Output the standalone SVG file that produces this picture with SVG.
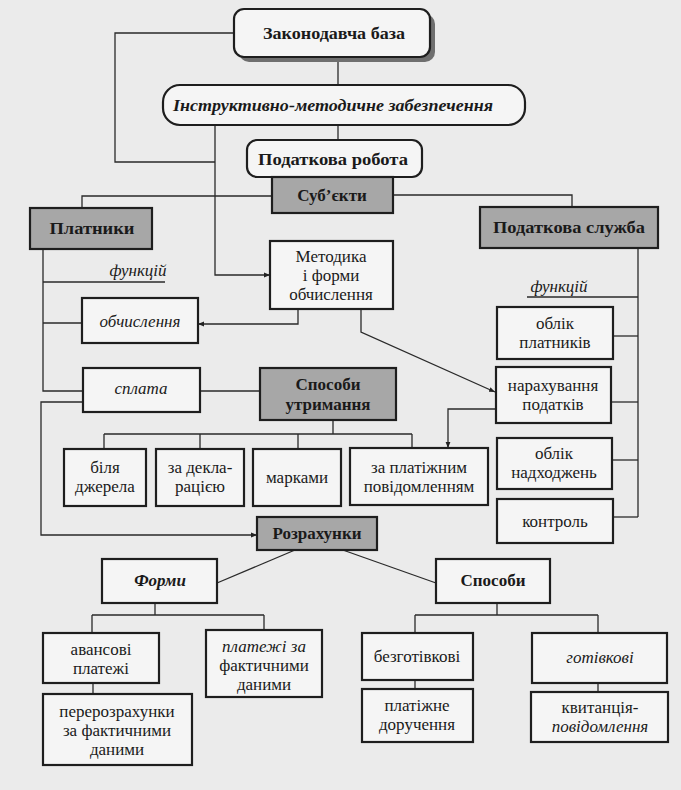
<svg xmlns="http://www.w3.org/2000/svg" width="681" height="790" viewBox="0 0 681 790" font-family="'Liberation Serif', 'DejaVu Serif', serif">
<defs>
<marker id="arr" viewBox="0 0 10 10" refX="10" refY="5" markerWidth="6" markerHeight="6" orient="auto" markerUnits="userSpaceOnUse">
<path d="M0,1 L10,5 L0,9 z" fill="#222"/>
</marker>
</defs>
<style>
.bg{fill:#ebebeb}
.box{fill:#f5f5f5;stroke:#1e1e1e;stroke-width:2.2}
.gbox{fill:#a7a7a7;stroke:#1e1e1e;stroke-width:2.2}
.shadow{fill:#6f6f6f}
.ln{fill:none;stroke:#2a2a2a;stroke-width:1.3}
.t{font-family:'Liberation Serif','DejaVu Serif',serif;font-size:17px;fill:#1a1a1a;text-anchor:middle}
.b{font-weight:bold}
.i{font-style:italic}
</style>
<rect class="bg" x="0" y="0" width="681" height="790"/>

<g id="connectors">
<path class="ln" d="M338,62 V85"/>
<path class="ln" d="M338,125 V140"/>
<path class="ln" d="M235,33 H115 V162 H215"/>
<path class="ln" d="M215,125 V275 H270" marker-end="url(#arr)"/>
<path class="ln" d="M272,196 H82 V208"/>
<path class="ln" d="M393,195 H572 V207"/>
<path class="ln" d="M43,249 V391 H83"/>
<path class="ln" d="M43,282 H165"/>
<path class="ln" d="M43,323 H82"/>
<path class="ln" d="M83,402 H41 V535 H257" marker-end="url(#arr)"/>
<path class="ln" d="M200,391 H260"/>
<path class="ln" d="M298,309 V324 H198" marker-end="url(#arr)"/>
<path class="ln" d="M361,309 V332 L495,392" marker-end="url(#arr)"/>
<path class="ln" d="M638,248 V517"/>
<path class="ln" d="M527,297 H638"/>
<path class="ln" d="M613,336 H638"/>
<path class="ln" d="M611,402 H638"/>
<path class="ln" d="M612,460 H638"/>
<path class="ln" d="M613,517 H638"/>
<path class="ln" d="M496,409 H448 V448" marker-end="url(#arr)"/>
<path class="ln" d="M333,420 V434 M104,434 H412 M104,434 V449 M200,434 V449 M298,434 V449 M412,434 V448"/>
<path class="ln" d="M295,550 L217,583"/>
<path class="ln" d="M340,549 L436,583"/>
<path class="ln" d="M155,603 V615 M92,615 H264 M92,615 V633 M264,615 V630"/>
<path class="ln" d="M93,683 V694"/>
<path class="ln" d="M497,603 V615 M415,615 H598 M415,615 V633 M598,615 V633"/>
<path class="ln" d="M415,680 V689"/>
<path class="ln" d="M598,683 V692"/>
</g>

<g id="n-zakonodavcha">
<rect class="shadow" x="239" y="14" width="196" height="48" rx="10"/>
<rect class="box" x="234" y="9" width="196" height="48" rx="10"/>
<text class="t b" x="334" y="39" textLength="142" lengthAdjust="spacingAndGlyphs">Законодавча база</text>
</g>

<g id="n-instruktyvno">
<rect class="box" x="163" y="85" width="362" height="40" rx="17"/>
<text class="t b i" x="333" y="111" textLength="320" lengthAdjust="spacingAndGlyphs">Інструктивно-методичне забезпечення</text>
</g>

<g id="n-podatkova-robota">
<rect class="box" x="247" y="140" width="175" height="37" rx="10"/>
<text class="t b" x="333" y="165" textLength="150" lengthAdjust="spacingAndGlyphs">Податкова робота</text>
</g>

<g id="n-subiekty">
<rect class="gbox" x="272" y="177" width="121" height="36"/>
<text class="t b" x="332" y="201">Суб’єкти</text>
</g>

<g id="n-platnyky">
<rect class="gbox" x="30" y="208" width="122" height="41"/>
<text class="t b" x="92" y="234" textLength="85" lengthAdjust="spacingAndGlyphs">Платники</text>
</g>

<g id="n-podatkova-sluzhba">
<rect class="gbox" x="480" y="207" width="178" height="41"/>
<text class="t b" x="569" y="233" textLength="152" lengthAdjust="spacingAndGlyphs">Податкова служба</text>
</g>

<g id="n-funktsii-left">
<text class="t i" x="138" y="276">функцій</text>
</g>
<g id="n-funktsii-right">
<text class="t i" x="559" y="292">функцій</text>
</g>

<g id="n-metodyka">
<rect class="box" x="270" y="241" width="123" height="68"/>
<text class="t" x="331" y="262">Методика</text>
<text class="t" x="331" y="281">і форми</text>
<text class="t" x="331" y="300">обчислення</text>
</g>

<g id="n-obchyslennia">
<rect class="box" x="82" y="298" width="116" height="45"/>
<text class="t i" x="140" y="327">обчислення</text>
</g>

<g id="n-splata">
<rect class="box" x="83" y="368" width="117" height="44"/>
<text class="t i" x="141" y="394">сплата</text>
</g>

<g id="n-sposoby-utrymannia">
<rect class="gbox" x="260" y="368" width="136" height="52"/>
<text class="t b" x="328" y="390">Способи</text>
<text class="t b" x="328" y="410">утримання</text>
</g>

<g id="n-bilia-dzherela">
<rect class="box" x="64" y="449" width="82" height="57"/>
<text class="t" x="105" y="473">біля</text>
<text class="t" x="105" y="492">джерела</text>
</g>

<g id="n-za-deklaratsiiu">
<rect class="box" x="156" y="449" width="88" height="57"/>
<text class="t" x="200" y="473">за декла-</text>
<text class="t" x="200" y="492">рацією</text>
</g>

<g id="n-markamy">
<rect class="box" x="253" y="449" width="88" height="57"/>
<text class="t" x="297" y="483">марками</text>
</g>

<g id="n-za-platizhnym">
<rect class="box" x="350" y="448" width="138" height="57"/>
<text class="t" x="419" y="473">за платіжним</text>
<text class="t" x="419" y="492">повідомленням</text>
</g>

<g id="n-oblik-platnykiv">
<rect class="box" x="497" y="307" width="116" height="52"/>
<text class="t" x="555" y="329">облік</text>
<text class="t" x="555" y="348">платників</text>
</g>

<g id="n-narakhuvannia">
<rect class="box" x="496" y="367" width="115" height="56"/>
<text class="t" x="553" y="391">нарахування</text>
<text class="t" x="553" y="410">податків</text>
</g>

<g id="n-oblik-nadkhodzhen">
<rect class="box" x="497" y="438" width="115" height="51"/>
<text class="t" x="554" y="459">облік</text>
<text class="t" x="554" y="478">надходжень</text>
</g>

<g id="n-kontrol">
<rect class="box" x="497" y="499" width="116" height="44"/>
<text class="t" x="555" y="527">контроль</text>
</g>

<g id="n-rozrakhunky">
<rect class="gbox" x="257" y="517" width="120" height="33"/>
<text class="t b" x="317" y="539">Розрахунки</text>
</g>

<g id="n-formy">
<rect class="box" x="102" y="559" width="115" height="44"/>
<text class="t b i" x="160" y="586">Форми</text>
</g>

<g id="n-sposoby">
<rect class="box" x="436" y="559" width="114" height="44"/>
<text class="t b" x="493" y="586">Способи</text>
</g>

<g id="n-avansovi">
<rect class="box" x="43" y="633" width="116" height="50"/>
<text class="t" x="101" y="655">авансові</text>
<text class="t" x="101" y="674">платежі</text>
</g>

<g id="n-platezhi-fakt">
<rect class="box" x="206" y="630" width="116" height="67"/>
<text class="t i" x="264" y="652">платежі за</text>
<text class="t" x="264" y="671">фактичними</text>
<text class="t" x="264" y="690">даними</text>
</g>

<g id="n-pererozrakhunky">
<rect class="box" x="43" y="694" width="149" height="71"/>
<text class="t" x="117" y="717">перерозрахунки</text>
<text class="t" x="117" y="736">за фактичними</text>
<text class="t" x="117" y="755">даними</text>
</g>

<g id="n-bezgotivkovi">
<rect class="box" x="362" y="633" width="111" height="47"/>
<text class="t" x="417" y="662">безготівкові</text>
</g>

<g id="n-gotivkovi">
<rect class="box" x="532" y="633" width="135" height="50"/>
<text class="t i" x="600" y="663">готівкові</text>
</g>

<g id="n-platizhne">
<rect class="box" x="362" y="689" width="111" height="53"/>
<text class="t" x="417" y="711">платіжне</text>
<text class="t" x="417" y="730">доручення</text>
</g>

<g id="n-kvytantsiia">
<rect class="box" x="531" y="692" width="137" height="50"/>
<text class="t" x="600" y="713">квитанція-</text>
<text class="t i" x="600" y="732">повідомлення</text>
</g>
</svg>
